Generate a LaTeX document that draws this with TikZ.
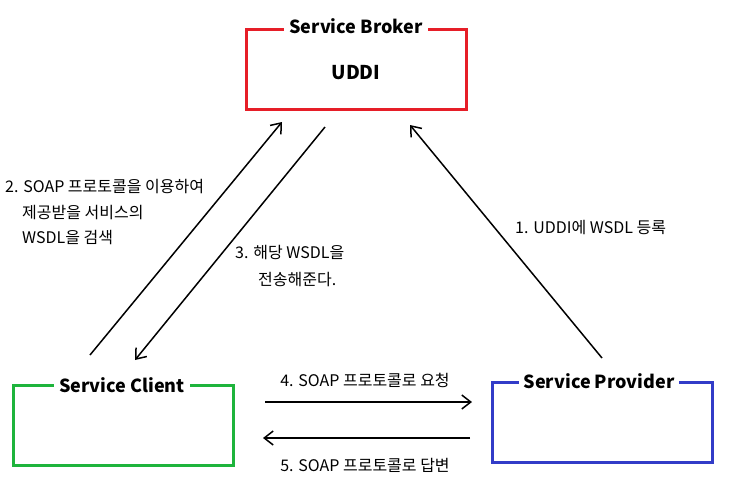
\documentclass[tikz,border=0pt]{standalone}
\usepackage{fontspec}
\setmainfont{Noto Sans CJK KR}
\usetikzlibrary{arrows.meta}
\begin{document}
\begin{tikzpicture}[x=1pt,y=-1pt,
  box/.style={draw,line width=3pt,minimum width=220pt,minimum height=80pt,inner sep=0pt},
  ttl/.style={fill=white,font=\bfseries\fontsize{18}{20}\selectfont,inner sep=5pt},
  lbl/.style={font=\fontsize{16}{18}\selectfont,inner sep=0pt},
  arr/.style={line width=1.5pt,-{Straight Barb[length=9pt,width=14pt]}}]
\path[use as bounding box] (0,0) rectangle (740,493);
\node[box,draw={rgb,255:red,230;green,30;blue,40}] (broker) at (356,69) {};
\node[ttl] (bt) at (356,26) {Service Broker};
\node[font=\bfseries\fontsize{19}{21}\selectfont] (uddi) at (356,73) {UDDI};
\node[box,draw={rgb,255:red,30;green,180;blue,60}] (client) at (123,425) {};
\node[ttl] (ct) at (122,385) {Service Client};
\node[box,draw={rgb,255:red,50;green,60;blue,200}] (prov) at (602,422) {};
\node[ttl] (pt) at (599,381) {Service Provider};
\coordinate (a1) at (90,355); \coordinate (a2) at (282,122);
\coordinate (b1) at (325,127); \coordinate (b2) at (135,360);
\coordinate (c1) at (602,358); \coordinate (c2) at (410,125);
\coordinate (d1) at (265,402); \coordinate (d2) at (472,402);
\coordinate (e1) at (470,438); \coordinate (e2) at (263,438);
\draw[arr] (a1) -- (a2);
\draw[arr] (b1) -- (b2);
\draw[arr] (c1) -- (c2);
\draw[arr] (d1) -- (d2);
\draw[arr] (e1) -- (e2);
\node[lbl,anchor=west] (l2a) at (5,187) {2. SOAP 프로토콜을 이용하여};
\node[lbl,anchor=west] (l2b) at (22,213) {제공받을 서비스의};
\node[lbl,anchor=west] (l2c) at (22,238) {WSDL을 검색};
\node[lbl,anchor=west] (l3a) at (235,253) {3. 해당 WSDL을};
\node[lbl,anchor=west] (l3b) at (258,280) {전송해준다.};
\node[lbl,anchor=west] (l1) at (515,228) {1. UDDI에 WSDL 등록};
\node[lbl] (l4) at (365,380) {4. SOAP 프로토콜로 요청};
\node[lbl] (l5) at (365,465) {5. SOAP 프로토콜로 답변};
\end{tikzpicture}
\end{document}
